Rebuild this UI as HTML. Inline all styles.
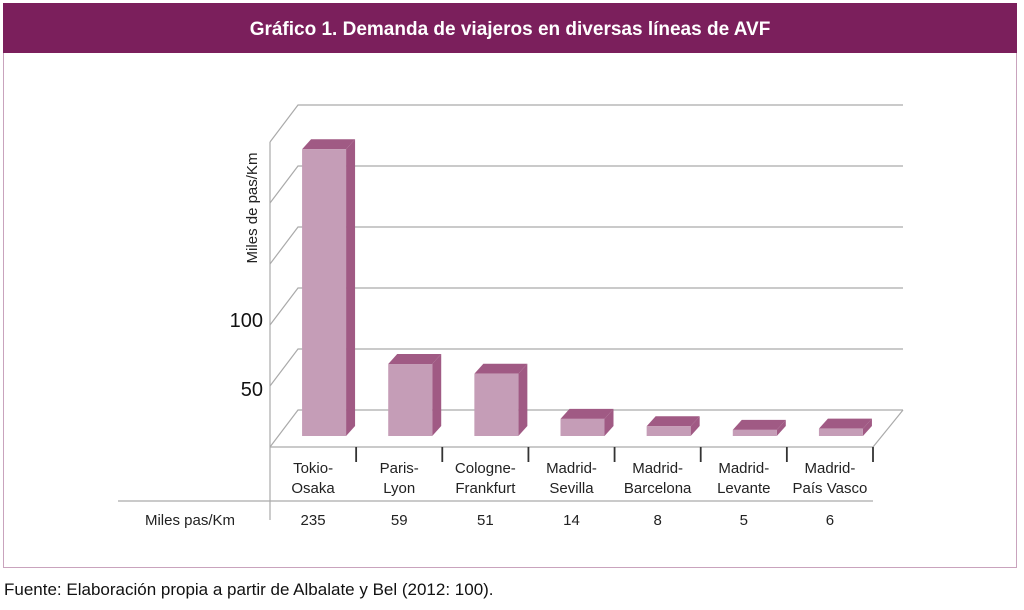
<!DOCTYPE html>
<html><head><meta charset="utf-8"><style>
body{margin:0;background:#fff;width:1024px;height:605px;overflow:hidden;font-family:"Liberation Sans",sans-serif}
</style></head><body>
<svg width="1024" height="605" font-family="Liberation Sans, sans-serif">
<rect x="3.5" y="3.5" width="1013" height="564" fill="#fff" stroke="#c9a3bd"/>
<rect x="3" y="3" width="1014" height="50" fill="#7b1f5c"/>
<text x="510" y="35" text-anchor="middle" fill="#fff" font-weight="bold" font-size="19">Gráfico 1. Demanda de viajeros en diversas líneas de AVF</text>
<g id="grid"></g>
<g id="bars"></g>
<g id="table"></g>
<text transform="translate(257,208) rotate(-90)" text-anchor="middle" font-size="15" fill="#222">Miles de pas/Km</text>
<text x="263" y="327" text-anchor="end" font-size="20" fill="#111">100</text>
<text x="263" y="396" text-anchor="end" font-size="20" fill="#111">50</text>
<text x="4" y="595" font-size="17" fill="#111">Fuente: Elaboración propia a partir de Albalate y Bel (2012: 100).</text>
</svg>
<script>
const categories=[["Tokio-","Osaka"],["Paris-","Lyon"],["Cologne-","Frankfurt"],["Madrid-","Sevilla"],["Madrid-","Barcelona"],["Madrid-","Levante"],["Madrid-","País Vasco"]];
const values=[235,59,51,14,8,5,6];
const valueLabels=["235","59","51","14","8","5","6"];
const gridTicks=[0,50,100,150,200,250];
const NS="http://www.w3.org/2000/svg";
const X0=270,X1=873,FY=447,DX=28,DY=37,BACKY=410,SC=1.22,BASE=436;
const yBack=v=>BACKY-v*SC;
const yBar=v=>BASE-v*SC;
const catW=(X1-X0)/categories.length;
function mk(tag,attrs,parent){const e=document.createElementNS(NS,tag);for(const k in attrs)e.setAttribute(k,attrs[k]);parent.appendChild(e);return e;}
const grid=document.getElementById('grid');
gridTicks.forEach(v=>{const y=yBack(v);
const p=mk('polyline',{points:`${X0},${y+DY} ${X0+DX},${y} ${X1+DX+2},${y}`,fill:'none',stroke:'#aaa','stroke-width':1.2},grid);

});
const fl=mk('polyline',{points:`${X0},${FY} ${X1},${FY} ${X1+DX+2},${BACKY}`,fill:'none',stroke:'#aaa','stroke-width':1.2},grid);


const la=mk('line',{x1:X0,y1:FY,x2:X0,y2:yBack(250)+DY,stroke:'#aaa','stroke-width':1.2},grid);


const bars=document.getElementById('bars');
values.forEach((v,i)=>{const cx=X0+catW*(i+0.5)+11,w=44,x=cx-w/2,top=yBar(v),d=9,h=10;
const g=mk('g',{},bars);


mk('polygon',{points:`${x+w},${top} ${x+w+d},${top-h} ${x+w+d},${BASE-h} ${x+w},${BASE}`,fill:'#a05a84'},g);
mk('polygon',{points:`${x},${top} ${x+d},${top-h} ${x+w+d},${top-h} ${x+w},${top}`,fill:'#a05a84'},g);
mk('rect',{x:x,y:top,width:w,height:BASE-top,fill:'#c59db7'},g);});
const t=document.getElementById('table');
for(let i=0;i<=categories.length;i++){const x=X0+catW*i;
const l=mk('line',{x1:x,y1:FY,x2:x,y2:i==0?520:462,stroke:i==0?'#aaa':'#333','stroke-width':i==0?1.2:1.8},t);

}
const hl=mk('line',{x1:118,y1:501,x2:X1,y2:501,stroke:'#aaa','stroke-width':1.2},t);


categories.forEach((c,i)=>{const cx=X0+catW*(i+0.5);
const tx=mk('text',{x:cx,y:473,'text-anchor':'middle','font-size':15,fill:'#222'},t);


c.forEach((s,j)=>{const ts=mk('tspan',{x:cx,dy:j?20:0},tx);ts.textContent=s;});
const vt=mk('text',{x:cx,y:525,'text-anchor':'middle','font-size':15,fill:'#222'},t);


vt.textContent=valueLabels[i];});
const rl=mk('text',{x:190,y:525,'text-anchor':'middle','font-size':15,fill:'#222'},t);


rl.textContent='Miles pas/Km';
</script>
</body></html>
